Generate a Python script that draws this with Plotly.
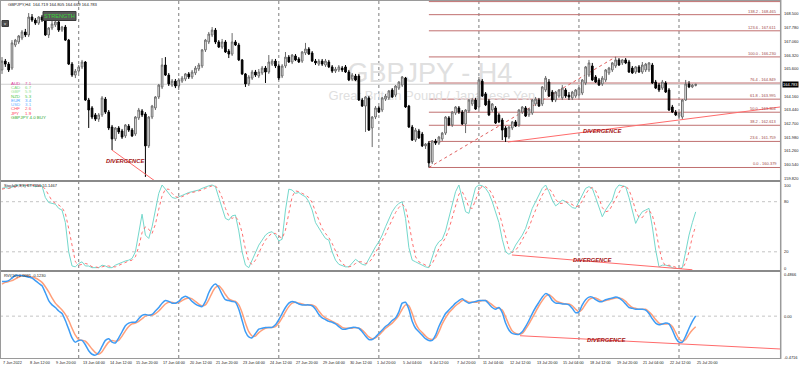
import plotly.graph_objects as go

W, H = 800, 370
def px(x): return x / W
def py(y): return 1 - y / H

# ---------------- DATA ----------------
bars = list(range(209))
open_ = [165.54,166.01,165.85,165.64,166.86,167.02,167.23,167.55,167.39,168.34,
168.18,168.02,168.34,168.18,167.39,167.76,167.92,168.08,167.65,167.81,
167.12,165.85,165.27,165.48,165.70,165.96,163.95,163.53,163.16,162.94,
163.16,164.00,163.31,162.52,161.89,162.47,162.31,162.05,162.57,162.36,
162.15,163.00,163.37,163.21,161.52,163.05,163.53,164.11,164.64,165.80,
165.27,164.74,164.95,164.69,164.95,165.06,165.33,165.17,165.38,165.59,
165.75,166.60,167.02,167.39,167.65,167.02,166.75,167.02,166.54,166.38,
167.02,166.86,166.07,165.33,164.80,165.11,165.43,165.22,165.38,165.64,
165.43,165.85,166.01,165.75,165.22,165.75,166.22,165.96,166.28,166.12,
166.01,166.44,166.65,166.44,166.01,165.85,166.01,165.80,165.96,165.70,
165.48,165.54,165.64,165.70,165.43,165.06,165.22,165.22,163.95,163.63,
164.06,162.47,163.05,163.53,163.42,164.00,164.06,164.48,164.21,164.58,
164.74,165.11,163.63,162.52,161.83,162.31,162.15,161.52,161.67,160.67,
161.78,161.67,161.89,162.20,163.00,162.63,163.26,163.53,163.31,162.68,
163.37,163.74,163.95,163.58,164.95,164.27,163.90,163.42,163.53,163.16,
162.89,162.47,161.99,162.47,162.79,162.63,163.31,163.53,163.16,163.26,
163.74,163.95,163.74,164.48,164.90,164.37,163.95,164.16,164.06,164.48,
164.21,164.06,164.16,164.21,164.32,164.85,165.27,165.75,165.17,165.01,
164.80,165.01,165.38,165.54,165.75,166.07,165.91,166.07,165.96,165.64,
165.43,165.70,165.43,165.54,165.54,165.80,164.90,164.74,164.58,164.85,
164.48,163.58,163.31,163.10,163.05,163.95,164.80,164.64,164.719]
high_ = [166.22,166.12,165.96,167.12,167.18,167.39,167.65,167.71,168.55,168.50,
168.29,168.39,168.45,168.29,167.81,168.13,168.18,168.18,167.87,167.92,
167.18,165.96,165.59,165.80,166.07,166.01,164.06,163.63,163.26,163.26,
164.16,164.11,163.42,162.63,162.52,162.57,162.42,162.68,162.68,162.47,
163.10,163.53,163.47,163.31,163.10,163.69,164.16,164.80,166.17,166.22,
165.38,165.06,165.06,165.11,165.22,165.38,165.43,165.54,165.75,165.91,
166.65,167.18,167.55,167.81,167.76,167.12,167.18,167.12,166.65,167.49,
167.12,166.97,166.12,165.38,165.27,165.54,165.54,165.59,165.75,165.75,
166.33,166.12,166.12,165.85,165.85,166.49,166.33,166.38,166.38,166.22,
166.54,166.97,166.75,166.54,166.12,166.12,166.12,166.12,166.07,165.80,
165.70,165.80,165.75,165.80,165.54,165.38,165.33,165.33,164.06,164.16,
164.16,163.10,163.63,163.63,164.11,164.27,164.48,164.58,164.74,164.95,
165.22,165.17,163.69,162.63,162.47,162.42,162.26,161.67,161.78,161.83,
161.89,162.05,162.26,163.10,163.10,163.37,163.63,163.63,163.42,163.47,
164.00,164.06,164.06,165.17,165.06,164.37,164.00,163.79,163.63,163.26,
163.00,162.57,162.57,162.84,162.89,163.47,163.63,163.63,163.53,164.00,
164.11,164.06,164.69,165.22,165.06,164.48,164.43,164.53,164.74,164.58,
164.37,164.43,164.53,164.64,165.06,165.75,166.07,165.91,165.27,165.11,
165.22,165.59,165.70,165.96,166.23,166.17,166.12,166.17,166.07,165.75,
165.75,165.80,165.96,165.91,165.96,165.91,165.01,164.85,165.01,164.95,
164.58,163.69,163.42,163.31,164.00,165.01,164.95,164.80,164.805]
low_ = [165.33,165.70,165.43,165.54,166.75,166.91,167.12,167.28,167.28,168.08,
167.92,167.92,168.08,167.34,167.23,167.65,167.81,167.55,167.55,167.07,
165.80,165.17,165.11,165.38,165.59,163.90,162.47,162.94,162.84,162.79,
163.05,163.21,162.36,161.30,161.78,162.15,161.89,161.94,162.26,161.99,
162.05,162.89,163.05,159.88,161.41,162.94,163.42,164.00,164.53,165.22,
164.69,164.64,164.58,164.48,164.85,164.95,165.06,165.06,165.27,165.48,
165.64,166.49,166.91,167.28,166.91,166.70,166.65,166.44,166.17,166.28,
166.81,166.01,165.27,164.64,164.69,165.01,165.17,165.11,165.27,164.85,
165.33,165.75,165.64,165.01,165.11,165.64,165.91,165.85,166.01,165.91,
165.91,166.33,166.33,165.96,165.80,165.75,165.75,165.70,165.64,165.38,
165.38,165.43,165.43,165.38,164.95,164.95,164.95,163.90,163.58,162.26,
162.31,161.46,162.94,163.26,163.31,163.90,163.95,164.06,164.11,164.48,
164.64,163.53,162.47,161.78,161.73,161.89,161.46,161.36,160.379,160.56,
161.57,161.57,161.78,162.10,162.57,162.52,163.16,163.21,162.63,162.20,
163.26,163.63,163.42,163.47,164.11,163.63,163.10,163.31,162.68,162.73,
161.83,161.73,161.89,162.36,162.52,162.52,163.21,163.05,163.05,163.16,
163.63,163.58,163.63,164.37,164.11,163.84,163.84,164.06,163.95,164.06,
163.95,163.95,164.06,164.11,164.21,164.74,165.17,164.95,164.85,164.69,
164.69,164.90,165.27,165.43,165.64,165.75,165.80,165.85,165.38,165.33,
165.33,165.38,165.33,165.43,165.43,164.80,164.53,164.37,164.48,164.32,
163.37,163.26,163.10,162.94,162.94,163.90,164.58,164.58,164.669]
close_ = [166.01,165.85,165.54,166.97,167.12,167.34,167.55,167.39,168.34,168.18,
168.02,168.34,168.18,167.39,167.76,167.97,168.08,167.65,167.81,167.12,
165.85,165.27,165.48,165.70,165.96,163.95,163.42,163.05,162.94,163.16,
164.06,163.31,162.47,161.89,162.47,162.26,161.99,162.63,162.36,162.05,
163.05,163.42,163.16,161.52,163.05,163.63,164.11,164.74,165.80,165.27,
164.80,164.95,164.69,165.01,165.11,165.33,165.17,165.43,165.64,165.80,
166.60,167.12,167.44,167.65,167.02,166.75,167.02,166.49,166.38,167.02,
166.86,166.07,165.33,164.80,165.17,165.43,165.27,165.43,165.64,165.43,
165.96,166.01,165.75,165.11,165.75,166.22,165.96,166.33,166.07,165.96,
166.49,166.65,166.38,166.01,165.91,166.01,165.85,166.01,165.70,165.48,
165.59,165.70,165.54,165.43,165.01,165.27,165.01,163.95,163.63,164.11,
162.36,163.05,163.53,163.31,164.06,164.16,164.43,164.11,164.69,164.90,
165.17,163.58,162.52,161.83,162.36,161.94,161.52,161.62,160.62,161.78,
161.67,161.99,162.20,163.05,162.63,163.31,163.58,163.31,162.68,163.42,
163.95,163.95,163.47,165.01,164.16,163.69,163.16,163.74,162.73,162.79,
162.36,161.99,162.52,162.79,162.57,163.42,163.58,163.10,163.47,163.95,
164.00,163.63,164.64,165.11,164.16,163.95,164.37,164.48,164.58,164.16,
164.11,164.37,164.48,164.58,165.01,165.70,165.91,165.01,164.90,164.74,
165.11,165.54,165.64,165.91,166.07,165.80,166.07,165.91,165.43,165.38,
165.70,165.43,165.80,165.85,165.91,164.85,164.58,164.48,164.90,164.37,
163.42,163.31,163.16,163.26,163.95,164.80,164.64,164.74,164.783]

stoch_main = [96,97,96,98,99,100,100,99,100,100,
98,99,99,85,79,78,77,72,70,55,
20,3,2,6,8,3,3,1,1,1,
4,3,1,1,4,6,7,9,10,12,
20,45,65,40,36,50,72,90,100,95,
90,85,84,86,88,90,91,92,93,94,
96,98,99,100,98,85,72,60,58,63,
64,45,20,4,1,10,20,28,34,40,
43,44,40,33,35,70,95,94,90,91,
88,86,80,70,55,48,42,36,34,20,
10,5,3,2,2,6,11,8,5,4,
12,20,26,32,40,50,60,68,74,78,
80,60,25,10,8,6,4,2,1,15,
26,32,35,45,60,75,92,100,85,68,
66,82,97,100,99,96,90,80,68,55,
35,20,17,20,28,34,40,48,60,72,
80,88,96,100,92,82,75,78,82,80,
76,73,72,80,90,96,98,96,85,72,
62,70,76,82,95,100,99,98,85,68,
54,62,68,70,72,50,22,2,4,4,
3,1,0,0,1,20,40,55,67.79]
stoch_signal = [95,96,96,97,98,99,100,100,100,100,
99,99,99,95,88,81,78,76,73,66,
48,26,8,4,5,6,5,2,2,1,
2,3,3,2,2,4,6,7,9,10,
14,26,43,50,47,42,53,71,87,95,
95,90,86,85,86,88,90,91,92,93,
94,96,98,99,99,94,85,72,63,60,
62,57,43,23,8,5,10,19,27,34,
39,42,42,39,36,46,67,86,93,92,
90,88,85,79,68,58,48,42,37,30,
21,12,6,3,2,3,6,8,8,6,
7,12,19,26,33,41,50,59,67,73,
77,73,55,32,14,8,6,4,2,6,
14,24,31,37,47,60,76,89,92,84,
73,72,82,93,99,98,95,89,79,68,
53,37,24,19,22,27,34,41,49,60,
71,80,88,95,96,91,83,78,78,80,
79,76,74,75,81,89,95,97,93,84,
73,68,69,76,84,92,98,99,94,84,
69,61,61,67,70,64,48,25,9,3,
4,3,1,0,0,7,20,38,51.15]
rvi_main = [0.40,0.40,0.41,0.44,0.47,0.47,0.47,0.46,0.45,0.44,
0.41,0.38,0.35,0.27,0.18,0.13,0.10,0.06,0.03,-0.05,
-0.15,-0.25,-0.30,-0.28,-0.28,-0.33,-0.40,-0.44,-0.45,-0.42,
-0.35,-0.28,-0.26,-0.30,-0.31,-0.25,-0.18,-0.11,-0.08,-0.07,
-0.07,-0.03,0.01,0.02,0.01,0.02,0.06,0.10,0.15,0.18,
0.17,0.15,0.15,0.17,0.21,0.23,0.21,0.17,0.14,0.12,
0.11,0.17,0.27,0.34,0.37,0.33,0.25,0.19,0.18,0.17,
0.16,0.08,-0.05,-0.18,-0.24,-0.25,-0.20,-0.15,-0.14,-0.13,
-0.13,-0.13,-0.10,-0.04,0.03,0.10,0.15,0.17,0.16,0.14,
0.13,0.13,0.13,0.12,0.08,0.02,-0.02,-0.04,-0.06,-0.07,
-0.09,-0.12,-0.15,-0.15,-0.14,-0.13,-0.13,-0.14,-0.18,-0.23,
-0.27,-0.27,-0.24,-0.20,-0.16,-0.12,-0.09,-0.05,-0.02,0.05,
0.15,0.16,0.08,-0.06,-0.14,-0.18,-0.22,-0.26,-0.28,-0.28,
-0.22,-0.12,-0.04,0.03,0.07,0.11,0.15,0.18,0.20,0.17,
0.15,0.16,0.17,0.18,0.18,0.18,0.14,0.10,0.08,0.10,
0.04,-0.08,-0.16,-0.20,-0.21,-0.21,-0.18,-0.12,-0.05,0.03,
0.10,0.16,0.22,0.26,0.24,0.18,0.15,0.15,0.14,0.14,
0.13,0.09,0.04,0.05,0.13,0.19,0.22,0.22,0.19,0.17,
0.17,0.19,0.20,0.21,0.22,0.21,0.18,0.14,0.10,0.09,
0.08,0.08,0.08,0.07,0.03,-0.03,-0.08,-0.10,-0.09,-0.08,
-0.09,-0.16,-0.25,-0.30,-0.30,-0.23,-0.14,-0.06,0.0031]
rvi_signal = [0.37,0.39,0.40,0.41,0.43,0.45,0.47,0.47,0.46,0.45,
0.44,0.42,0.39,0.34,0.28,0.21,0.15,0.11,0.07,0.02,
-0.05,-0.14,-0.22,-0.27,-0.28,-0.29,-0.33,-0.38,-0.42,-0.44,
-0.41,-0.35,-0.30,-0.28,-0.29,-0.28,-0.23,-0.17,-0.12,-0.09,
-0.08,-0.06,-0.03,0.00,0.01,0.01,0.03,0.06,0.10,0.14,
0.16,0.16,0.15,0.16,0.18,0.20,0.21,0.20,0.17,0.14,
0.12,0.13,0.19,0.27,0.33,0.35,0.31,0.25,0.20,0.18,
0.17,0.13,0.04,-0.08,-0.18,-0.23,-0.23,-0.19,-0.16,-0.14,
-0.13,-0.13,-0.12,-0.08,-0.02,0.05,0.11,0.15,0.16,0.15,
0.14,0.13,0.13,0.13,0.11,0.06,0.01,-0.02,-0.04,-0.06,
-0.08,-0.10,-0.13,-0.14,-0.14,-0.14,-0.13,-0.14,-0.16,-0.20,
-0.24,-0.26,-0.25,-0.22,-0.18,-0.14,-0.11,-0.08,-0.04,0.01,
0.08,0.13,0.12,0.03,-0.08,-0.15,-0.19,-0.23,-0.26,-0.27,
-0.25,-0.18,-0.09,-0.02,0.04,0.08,0.12,0.15,0.18,0.18,
0.16,0.16,0.16,0.17,0.18,0.18,0.16,0.13,0.10,0.09,
0.07,-0.01,-0.10,-0.17,-0.20,-0.21,-0.20,-0.15,-0.09,-0.02,
0.05,0.12,0.18,0.23,0.25,0.22,0.18,0.16,0.15,0.14,
0.14,0.12,0.08,0.05,0.08,0.14,0.19,0.21,0.21,0.19,
0.17,0.18,0.19,0.20,0.21,0.21,0.20,0.17,0.13,0.10,
0.09,0.08,0.08,0.08,0.05,0.01,-0.04,-0.08,-0.09,-0.09,
-0.09,-0.12,-0.19,-0.26,-0.29,-0.27,-0.21,-0.16,-0.123]

time_labels = ["7 Jun 2022","8 Jun 12:00","9 Jun 20:00","13 Jun 04:00","14 Jun 12:00",
"15 Jun 20:00","17 Jun 04:00","20 Jun 12:00","21 Jun 20:00","23 Jun 04:00",
"24 Jun 12:00","27 Jun 20:00","29 Jun 04:00","30 Jun 12:00","1 Jul 20:00",
"5 Jul 04:00","6 Jul 12:00","7 Jul 20:00","11 Jul 04:00","12 Jul 12:00",
"13 Jul 20:00","15 Jul 04:00","18 Jul 12:00","19 Jul 20:00","21 Jul 04:00",
"22 Jul 12:00","25 Jul 20:00"]
time_label_bars = list(range(0, 209, 8))
grid_bars = [23, 53, 83, 113, 143, 173, 203]

price_ticks = [168.500,167.780,167.060,166.320,165.600,164.160,163.440,162.700,
               161.980,161.260,160.540,159.820]
bid_price = 164.783
fib_levels = ["0.0","23.6","38.2","50.0","61.8","76.4","100.0","123.6","138.2"]
fib_prices = [160.379,161.759,162.613,163.304,163.995,164.849,166.230,167.611,168.465]
fib_top_price = 169.156
fib_start_bar = 128
fib_end_bar = 184

stoch_ticks = [100, 80, 20, 0]
rvi_ticks = [0.4866, 0.00, -0.4716]

strength_names = ["AUD","CAD","GBP","NZD","EUR","USD","CHF","JPY"]
strength_vals = ["7.1","6.7","5.9","5.3","3.4","3.1","2.6","1.9"]
strength_colors = ["#e0409f","#7ed67e","#94e494","#4cc84c","#4da6ff","#66b3ff","#ff4d6a","#ff3355"]

div_price_left = ([33, 45.9], [161.30, 159.66])
div_price_right = ([151.7, 233.28], [161.728, 163.579])
div_stoch = ([152.9, 207.0], [16.2, -1.5])
div_rvi = ([155.3, 233.28], [-0.226, -0.379])

# ---------------- FIGURE ----------------
XR = [-0.6, 233.28]
PR = [159.717, 169.188]
FONT = "Liberation Sans"

fig = go.Figure()

# watermark (base layer, below candles)
fig.add_trace(go.Scatter(
    x=[128.3, 128.9], y=[165.24, 164.12], mode="text",
    text=["GBPJPY - H4", "Great Britain Pound / Japanese Yen"],
    textfont=dict(size=[27, 13], color="#e0e0e0", family=FONT),
    xaxis="x", yaxis="y", hoverinfo="skip", showlegend=False))

fig.add_trace(go.Candlestick(
    x=bars, open=open_, high=high_, low=low_, close=close_,
    xaxis="x", yaxis="y4", whiskerwidth=0,
    increasing=dict(line=dict(color="#6a6a6a", width=1), fillcolor="#ffffff"),
    decreasing=dict(line=dict(color="#000000", width=1), fillcolor="#000000"),
    hoverinfo="skip", showlegend=False))

for (xs, ys) in [div_price_left, div_price_right]:
    fig.add_trace(go.Scatter(x=xs, y=ys, mode="lines", line=dict(color="#ff6b6b", width=1),
                             xaxis="x", yaxis="y4", hoverinfo="skip", showlegend=False))

# stochastic
fig.add_trace(go.Scatter(x=bars, y=stoch_main, mode="lines", line=dict(color="#74d8cc", width=1),
                         xaxis="x2", yaxis="y2", hoverinfo="skip", showlegend=False))
fig.add_trace(go.Scatter(x=bars, y=stoch_signal, mode="lines", line=dict(color="#ff7070", width=1, dash="dot"),
                         xaxis="x2", yaxis="y2", hoverinfo="skip", showlegend=False))
fig.add_trace(go.Scatter(x=div_stoch[0], y=div_stoch[1], mode="lines", line=dict(color="#ff6b6b", width=1),
                         xaxis="x2", yaxis="y2", hoverinfo="skip", showlegend=False))

# RVI
fig.add_trace(go.Scatter(x=bars, y=rvi_signal, mode="lines", line=dict(color="#ff9f7a", width=1.5, shape="spline", smoothing=0.6),
                         xaxis="x3", yaxis="y3", hoverinfo="skip", showlegend=False))
fig.add_trace(go.Scatter(x=bars, y=rvi_main, mode="lines", line=dict(color="#3d9cf5", width=1.5, shape="spline", smoothing=0.6),
                         xaxis="x3", yaxis="y3", hoverinfo="skip", showlegend=False))
fig.add_trace(go.Scatter(x=div_rvi[0], y=div_rvi[1], mode="lines", line=dict(color="#ff6b6b", width=1),
                         xaxis="x3", yaxis="y3", hoverinfo="skip", showlegend=False))

shapes = []
# vertical grid
for b in grid_bars:
    shapes.append(dict(type="line", xref="x", yref="paper", x0=b, x1=b, y0=py(358), y1=py(1),
                       line=dict(color="#7c7c7c", width=1, dash="dot"), layer="below"))
# bid line
shapes.append(dict(type="line", xref="paper", yref="y", x0=0, x1=px(780), y0=bid_price, y1=bid_price,
                   line=dict(color="#cfcfcf", width=1), layer="below"))
# fib lines
for p in fib_prices + [fib_top_price]:
    shapes.append(dict(type="line", xref="x", yref="y", x0=fib_start_bar, x1=XR[1], y0=p, y1=p,
                       line=dict(color="#c07070", width=1), layer="below"))
shapes.append(dict(type="line", xref="x", yref="y", x0=fib_start_bar, x1=fib_end_bar,
                   y0=fib_prices[0], y1=fib_prices[6], line=dict(color="#e06060", width=1, dash="dot"), layer="below"))
# stoch / rvi levels
for v in [80, 20]:
    shapes.append(dict(type="line", xref="paper", yref="y2", x0=0, x1=px(780), y0=v, y1=v,
                       line=dict(color="#c4c4c4", width=1, dash="dot"), layer="below"))
shapes.append(dict(type="line", xref="paper", yref="y3", x0=0, x1=px(780), y0=0, y1=0,
                   line=dict(color="#c4c4c4", width=1, dash="dot"), layer="below"))
# pane borders
BC = "#9a9a9a"
shapes += [
    dict(type="line", xref="paper", yref="paper", x0=0, x1=px(781), y0=py(0.5), y1=py(0.5), line=dict(color=BC, width=1)),
    dict(type="line", xref="paper", yref="paper", x0=0, x1=px(781), y0=py(181), y1=py(181), line=dict(color="#8a8a8a", width=2)),
    dict(type="line", xref="paper", yref="paper", x0=0, x1=px(781), y0=py(271), y1=py(271), line=dict(color="#8a8a8a", width=2)),
    dict(type="line", xref="paper", yref="paper", x0=0, x1=px(781), y0=py(358.5), y1=py(358.5), line=dict(color=BC, width=1)),
    dict(type="line", xref="paper", yref="paper", x0=px(780.7), x1=px(780.7), y0=py(0), y1=py(359), line=dict(color=BC, width=1.5)),
    dict(type="line", xref="paper", yref="paper", x0=px(0.5), x1=px(0.5), y0=py(0), y1=py(359), line=dict(color=BC, width=1)),
    # strength button
    dict(type="rect", xref="paper", yref="paper", x0=px(43), x1=px(76), y0=py(20.5), y1=py(11.5),
         fillcolor="#585858", line=dict(color="#3a3a3a", width=1)),
    dict(type="rect", xref="paper", yref="paper", x0=px(2), x1=px(8.5), y0=py(26.5), y1=py(20.5),
         fillcolor="#4e4e4e", line=dict(color="#3a3a3a", width=1)),
]

ann = []
def A(text, x, y, size=4, color="#1a1a1a", xanchor="left", yanchor="middle", xref="paper", yref="paper", **kw):
    d = dict(text=text, x=x, y=y, xref=xref, yref=yref, xanchor=xanchor, yanchor=yanchor,
             showarrow=False, font=dict(size=size, color=color, family=FONT),
             borderpad=0)
    d.update(kw)
    ann.append(d)

# top title
A("GBPJPY,H4  164.719 164.805 164.669 164.783", px(7), py(4.5), size=4.2)
A("v", px(5.2), py(23.5), size=4, color="#ffffff", xanchor="center")
A("STRENGTH", px(59.5), py(16), size=5.6, color="#3ad43a", xanchor="center")
# strength list
for i, (n, v, c) in enumerate(zip(strength_names, strength_vals, strength_colors)):
    yy = 83.3 + i * 4.25
    A(n, px(10), py(yy), size=4.4, color=c)
    A(v, px(24), py(yy), size=4.4, color=c)
A("GBPJPY 4.0 BUY", px(10), py(117.3), size=4.4, color="#2ea82e")

# price axis labels
for p in price_ticks:
    A(f"{p:.3f}", px(782.5), p, size=4, yref="y")
A(f"{bid_price:.3f}", px(781.5), bid_price, size=4, color="#ffffff", yref="y", bgcolor="#000000")
# fib labels
for lv, p in zip(fib_levels, fib_prices):
    A(f"{lv} - {p:.3f}", px(778), p, size=4, color="#a04848", xanchor="right", yanchor="bottom", yref="y")

# stoch / rvi labels
for v in stoch_ticks:
    A(str(v), px(782.5), v, size=4, yref="y2")
for v, t in zip(rvi_ticks, ["0.4866", "0.00", "-0.4716"]):
    A(t, px(782.5), v, size=4, yref="y3")
A("Stoch(9,3,3) 67.7855 51.1467", px(3), py(185), size=4)
A("RVI(10) 0.0031 -0.1230", px(3), py(275), size=4)

# time labels
for b, t in zip(time_label_bars, time_labels):
    A(t, b, py(362.5), size=3.8, xref="x3")

# divergence texts
DC = "#a31515"
for (cx, cy) in [(125, 161), (602, 130.5), (592, 260), (606, 340)]:
    A("<b><i>DIVERGENCE</i></b>", px(cx), py(cy), size=5.8, color=DC, xanchor="center")

ax_common = dict(range=XR, visible=False, fixedrange=True, domain=[0, px(780)])
fig.update_layout(
    width=W, height=H, margin=dict(l=0, r=0, t=0, b=0),
    paper_bgcolor="#ffffff", plot_bgcolor="rgba(0,0,0,0)",
    showlegend=False,
    xaxis=dict(**ax_common, anchor="y", rangeslider=dict(visible=False)),
    xaxis2=dict(**ax_common, anchor="y2"),
    xaxis3=dict(**ax_common, anchor="y3"),
    yaxis=dict(domain=[py(180), py(1)], range=PR, visible=False, fixedrange=True, anchor="x"),
    yaxis4=dict(overlaying="y", range=PR, visible=False, fixedrange=True, anchor="x"),
    yaxis2=dict(domain=[py(270), py(182)], range=[-1.8, 103.6], visible=False, fixedrange=True, anchor="x2"),
    yaxis3=dict(domain=[py(358), py(272)], range=[-0.4832, 0.5097], visible=False, fixedrange=True, anchor="x3"),
    shapes=shapes, annotations=ann,
)

fig.write_html("out.html")
